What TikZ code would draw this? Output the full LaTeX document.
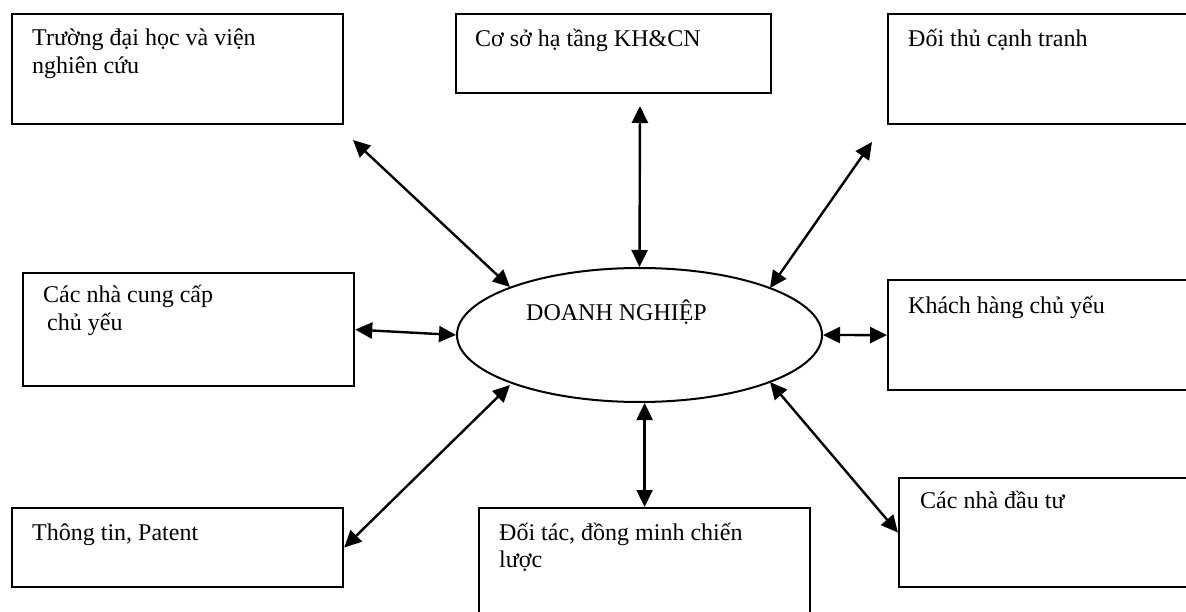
\documentclass[tikz,border=0pt]{standalone}
\usepackage{fontspec}
\setmainfont{Liberation Serif}
\usetikzlibrary{arrows.meta,shapes.geometric}
\begin{document}
\begin{tikzpicture}[x=1pt,y=-1pt,
  box/.style={draw,line width=2.2pt,rectangle,anchor=north west,inner sep=0pt},
  lbl/.style={anchor=base west,inner sep=0pt,font=\fontsize{24}{27.6}\selectfont},
  link/.style={line width=2.4pt,{Triangle[length=17pt,width=16pt]}-{Triangle[length=17pt,width=16pt]}}]
\useasboundingbox (0,0) rectangle (1186,612);
\clip (0,0) rectangle (1186,612);
% boxes
\node[box,minimum width=331pt,minimum height=110pt] (tr)  at (11,13) {};
\node[box,minimum width=315pt,minimum height=79pt]  (cs)  at (455,13) {};
\node[box,minimum width=330pt,minimum height=110pt] (dth) at (887,13) {};
\node[box,minimum width=331pt,minimum height=113pt] (cc)  at (22,272) {};
\node[box,minimum width=330pt,minimum height=110pt] (kh)  at (887,279) {};
\node[box,minimum width=331pt,minimum height=79pt]  (tt)  at (11,507) {};
\node[box,minimum width=331pt,minimum height=130pt] (dt)  at (478,507) {};
\node[box,minimum width=320pt,minimum height=109pt] (ndt) at (898,477) {};
% centre ellipse
\node[draw,ellipse,line width=2pt,minimum width=365pt,minimum height=134pt,inner sep=0pt] (dn) at (639.5,335) {};
% texts
\node[lbl] (ttr) at (32,46) {\begin{tabular}[t]{@{}l@{}}Trường đại học và viện\\nghiên cứu\end{tabular}};
\node[lbl] (tcs) at (475,47) {Cơ sở hạ tầng KH\&CN};
\node[lbl] (tdth) at (908,47) {Đối thủ cạnh tranh};
\node[lbl] (tcc) at (43,303) {\begin{tabular}[t]{@{}l@{}}Các nhà cung cấp\\\hspace*{4pt}chủ yếu\end{tabular}};
\node[lbl] (tkh) at (908,313) {Khách hàng chủ yếu};
\node[lbl] (ttt) at (32,540) {Thông tin, Patent};
\node[lbl] (tdt) at (499,540) {\begin{tabular}[t]{@{}l@{}}Đối tác, đồng minh chiến\\lược\end{tabular}};
\node[lbl] (tndt) at (920,508) {Các nhà đầu tư};
\node[lbl] (tdn) at (526,320) {DOANH NGHIỆP};
% connector ends
\coordinate (b1) at (353,140);
\coordinate (e1) at (510,287);
\coordinate (b2) at (640,106);
\coordinate (b3) at (872,142);
\coordinate (e3) at (770,288);
\coordinate (e6) at (510,385);
\coordinate (e8) at (770,382);
% connectors
\draw[link] (b1) -- (e1);
\draw[link] (b2) -- (dn.north);
\draw[link] (b3) -- (e3);
\draw[link] (cc.east) -- (dn.west);
\draw[link] (dn.east) -- (kh.west);
\draw[link] (e6) -- (tt.east);
\draw[link] (dt.north |- dn.south) -- (dt.north);
\draw[link] (e8) -- (ndt.west);
\end{tikzpicture}
\end{document}
